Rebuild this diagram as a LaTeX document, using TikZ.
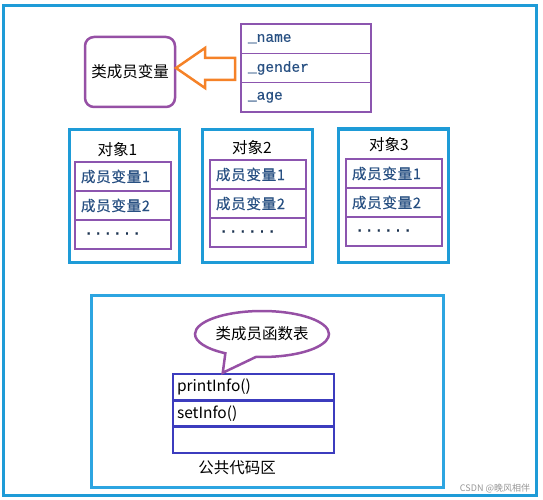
\documentclass[tikz,border=0pt]{standalone}
\usepackage{fontspec}
\setmainfont{Noto Sans CJK SC}
\newfontfamily\monofont[FakeBold=0.6]{Liberation Mono}
\newfontfamily\rowfont[LetterSpace=5,FakeBold=0.5]{Noto Sans CJK SC}
\usetikzlibrary{shapes.callouts,calc}
\definecolor{skyb}{RGB}{30,155,215}
\definecolor{skyc}{RGB}{45,165,225}
\definecolor{purp}{RGB}{150,80,165}
\definecolor{purt}{RGB}{140,85,175}
\definecolor{orng}{RGB}{245,130,40}
\definecolor{indg}{RGB}{60,60,190}
\definecolor{txtb}{RGB}{40,80,130}
\definecolor{wmk}{RGB}{150,150,150}
\tikzset{
  frame/.style={draw=skyb,line width=3pt,inner sep=0pt},
  membox/.style={draw=purp,line width=2.5pt,rounded corners=9pt,minimum width=90pt,minimum height=70pt,inner sep=0pt,font=\fontsize{15.5}{18}\selectfont},
  namerow/.style={draw=purt,line width=1.5pt,minimum height=29.3pt,text width=116pt,inner xsep=7pt,inner ysep=0pt,align=left,font=\monofont\fontsize{14.5}{16}\selectfont,text=txtb},
  objrow/.style={draw=purt,line width=1.5pt,minimum height=29pt,text width=84pt,inner xsep=6pt,inner ysep=0pt,align=left,font=\rowfont\fontsize{14.5}{16}\selectfont,text=txtb},
  objbox/.style={frame,minimum width=110pt,minimum height=133pt},
  objlabel/.style={font=\fontsize{15.5}{18}\selectfont,inner sep=0pt},
  funrow/.style={draw=indg,line width=2.5pt,minimum height=26.3pt,text width=153pt,inner xsep=4pt,inner ysep=0pt,align=left,font=\fontsize{15.5}{18}\selectfont},
  dots/.style={font=\monofont\fontsize{16}{18}\selectfont,text=txtb!60!black},
  bubble/.style={ellipse callout,draw=purp,line width=2.5pt,minimum width=134pt,minimum height=46pt,inner sep=0pt,callout pointer arc=28,font=\fontsize{15.5}{18}\selectfont},
  hollowarrow/.style={draw=orng,line width=2.5pt,line join=miter},
}
\begin{document}
\begin{tikzpicture}[x=1pt,y=-1pt]
\useasboundingbox (0,0) rectangle (543,500);
% outer frame
\node[frame,minimum width=533pt,minimum height=489pt] (outer) at (269.5,250.5) {};
% class member variables
\node[membox] (mem) at (130,72) {类成员变量};
\node[namerow] (n1) at (306,38.7) {\raisebox{-2pt}{\_name}};
\node[namerow] (n2) at (306,68) {\raisebox{-2pt}{\_gender}};
\node[namerow] (n3) at (306,97.3) {\raisebox{-2pt}{\_age}};
% hollow arrow
\draw[hollowarrow] (235,58) -- (205,58) -- (205,48) -- (176,68) -- (205,88) -- (205,80) -- (235,80) -- cycle;
% object 1
\node[objbox] (o1) at (124,196) {};
\node[objlabel] (o1l) at (117.5,150) {对象1};
\node[objrow] (o1a) at (123,176.5) {成员变量1};
\node[objrow] (o1b) at (123,205.5) {成员变量2};
\node[objrow] (o1c) at (123,234.5) {};
\node[dots,anchor=west] (o1d) at ($(o1c.west)+(6,-1)$) {......};
% object 2
\node[objbox] (o2) at (257,196) {};
\node[objlabel] (o2l) at (252,148) {对象2};
\node[objrow] (o2a) at (258,174.5) {成员变量1};
\node[objrow] (o2b) at (258,203.5) {成员变量2};
\node[objrow] (o2c) at (258,232.5) {};
\node[dots,anchor=west] (o2d) at ($(o2c.west)+(6,-1)$) {......};
% object 3
\node[objbox] (o3) at (393.5,195.5) {};
\node[objlabel] (o3l) at (389,145) {对象3};
\node[objrow] (o3a) at (394,173.5) {成员变量1};
\node[objrow] (o3b) at (394,202.5) {成员变量2};
\node[objrow] (o3c) at (394,231.5) {};
\node[dots,anchor=west] (o3d) at ($(o3c.west)+(6,-1)$) {......};
% public code area
\node[frame,draw=skyc,minimum width=352pt,minimum height=192pt] (code) at (267,391) {};
\node[funrow] (f1) at (253.5,387.2) {printInfo()};
\node[funrow] (f2) at (253.5,413.5) {setInfo()};
\node[funrow] (f3) at (253.5,439.8) {};
\coordinate (tip) at ($(f1.north west)+(51,0)$);
\node[bubble,callout absolute pointer={(tip)}] (bub) at (262,334) {类成员函数表};
\node[font=\fontsize{15.5}{18}\selectfont,inner sep=0pt] (codel) at (237,468) {公共代码区};
% watermark
\node[font=\fontsize{9}{10}\selectfont,text=wmk,inner sep=0pt] (wm) at (495,488) {CSDN @晚风相伴};
\end{tikzpicture}
\end{document}
